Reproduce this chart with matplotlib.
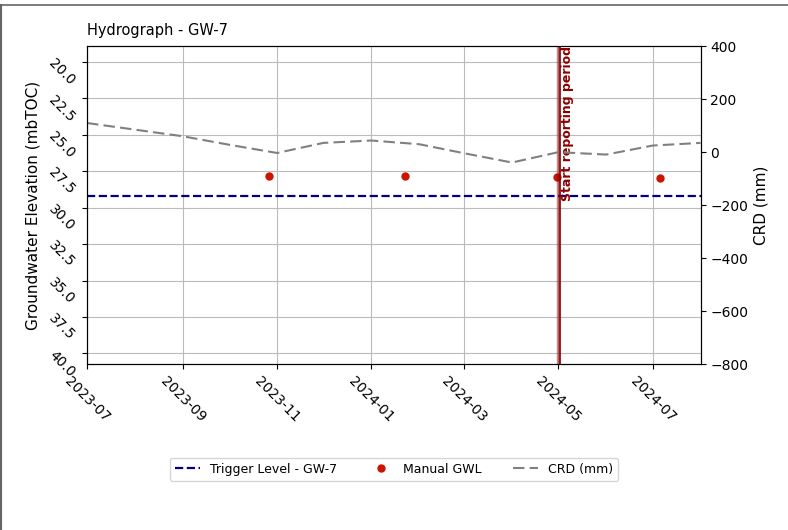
import matplotlib
matplotlib.use('Agg')
import matplotlib.pyplot as plt
import matplotlib.dates as mdates
from matplotlib.lines import Line2D
from matplotlib.ticker import MultipleLocator
import pandas as pd

# Manual groundwater level readings (mbTOC)
gwl_dates = pd.to_datetime(['2023-10-27', '2024-01-23', '2024-04-30', '2024-07-06'])
gwl_values = [27.86, 27.82, 27.91, 27.95]

# Cumulative rainfall departure (mm), monthly
crd_dates = pd.to_datetime(['2023-07-01', '2023-08-01', '2023-09-01', '2023-10-01',
                            '2023-11-01', '2023-12-01', '2024-01-01', '2024-02-01',
                            '2024-03-01', '2024-04-01', '2024-05-01', '2024-06-01',
                            '2024-07-01', '2024-08-01'])
crd_values = [110, 85, 60, 28, -3, 35, 44, 30, -4, -39, 0, -9, 25, 35]

trigger_level = 29.2
well = 'GW-7'
report_start = pd.Timestamp('2024-05-01')

fig = plt.figure(figsize=(7.88, 5.3), dpi=100)
ax = fig.add_axes([0.1104, 0.3126, 0.7786, 0.6004])
ax2 = ax.twinx()

ax.axhline(trigger_level, color='darkblue', linestyle='--', lw=1.6, label='Trigger Level - ' + well)
ax.plot(gwl_dates, gwl_values, 'o', color='#cc1500', ms=5, label='Manual GWL')
ax.axvline(report_start, color='darkred', lw=2.5, alpha=0.45)
ax.axvline(report_start + pd.Timedelta(days=1), color='darkred', lw=1.2)
ax.text(report_start + pd.Timedelta(days=1.5), 1.0, 'Start reporting period', rotation=90,
        color='darkred', fontweight='bold', fontsize=9, va='top', ha='left',
        transform=ax.get_xaxis_transform())

ax2.plot(crd_dates, crd_values, color='gray', lw=1.5, dashes=(5.5, 2.5), label='CRD (mm)')

ax.set_xlim(pd.Timestamp('2023-07-01'), pd.Timestamp('2024-08-01'))
ax.set_ylim(40.75, 18.92)
ax.yaxis.set_major_locator(MultipleLocator(2.5))
ax2.set_ylim(-800, 400)

ax.xaxis.set_major_locator(mdates.MonthLocator(bymonth=[1, 3, 5, 7, 9, 11]))
ax.xaxis.set_major_formatter(mdates.DateFormatter('%Y-%m'))
plt.setp(ax.get_xticklabels(), rotation=-45)
plt.setp(ax.get_yticklabels(), rotation=-45)

ax.grid(True, color='#bbbbbb')
ax.set_ylabel('Groundwater Elevation (mbTOC)', fontsize=11)
ax2.set_ylabel('CRD (mm)', fontsize=11)
ax.set_title('Hydrograph - ' + well, loc='left', fontsize=10.5, pad=8)

h1, l1 = ax.get_legend_handles_labels()
h2, l2 = ax2.get_legend_handles_labels()
fig.legend(h1 + h2, l1 + l2, loc='upper center', bbox_to_anchor=(0.5, 0.148), ncol=3,
           fontsize=9, columnspacing=2.5)

# frame around the figure edge
fig.add_artist(Line2D([0, 1], [1 - 5 / 530, 1 - 5 / 530], color='#666666', lw=1.2,
                      transform=fig.transFigure))
fig.add_artist(Line2D([0.001, 0.001], [0, 1 - 5 / 530], color='#666666', lw=1.5,
                      transform=fig.transFigure))

fig.savefig('out.png', dpi=100)
